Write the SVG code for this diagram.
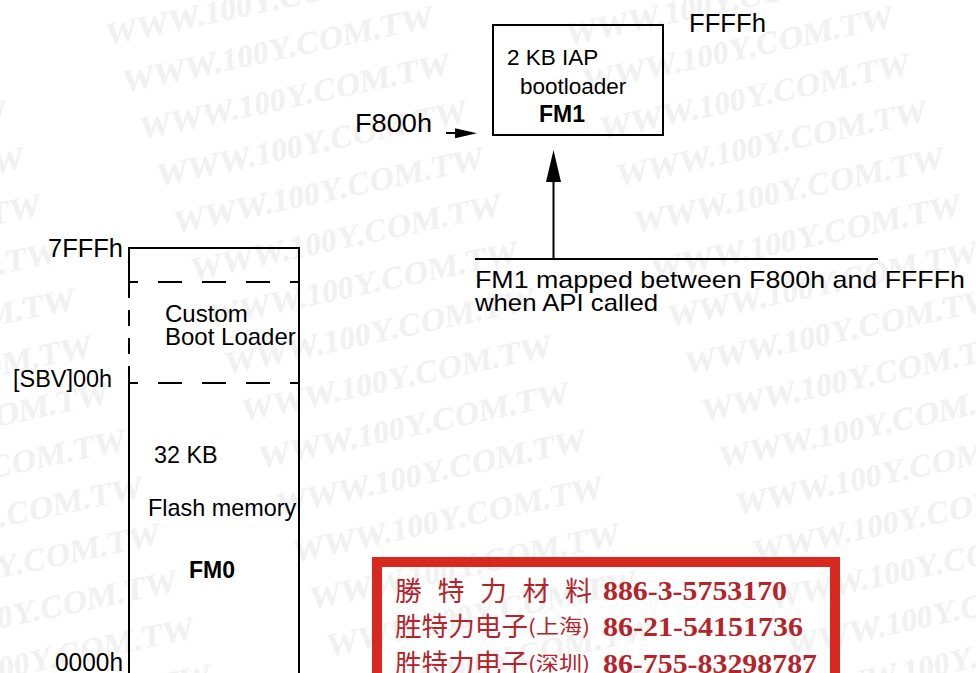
<svg xmlns="http://www.w3.org/2000/svg" xmlns:xlink="http://www.w3.org/1999/xlink" width="976" height="673" viewBox="0 0 976 673">
<style>
.t{font-family:"Liberation Sans",Arial,Helvetica,sans-serif;fill:#000}
.b{font-weight:bold}
.ln{stroke:#000;stroke-width:2;fill:none}
.dh{stroke-dasharray:24 20;stroke-dashoffset:14}
.dv{stroke-dasharray:16 12}
.wm{font-family:"Liberation Serif","Times New Roman",serif;font-weight:bold;font-size:32px;fill:#f1f1f1}
.cn{font-family:"Noto Sans CJK SC","Noto Sans CJK TC",sans-serif;fill:#b3252b}
.num{font-family:"Liberation Serif","Times New Roman",serif;font-weight:bold;fill:#b3252b;font-size:28px}
</style>
<defs>
<text id="wm" class="wm" text-anchor="end" transform="rotate(-12) skewX(-10)">WWW.100Y.COM.TW</text>
</defs>
<rect width="976" height="673" fill="#fff"/>
<g id="watermark">
<use xlink:href="#wm" transform="translate(416,-20)"/>
<use xlink:href="#wm" transform="translate(433,27)"/>
<use xlink:href="#wm" transform="translate(450,74)"/>
<use xlink:href="#wm" transform="translate(467,121)"/>
<use xlink:href="#wm" transform="translate(484,168)"/>
<use xlink:href="#wm" transform="translate(501,215)"/>
<use xlink:href="#wm" transform="translate(518,262)"/>
<use xlink:href="#wm" transform="translate(535,309)"/>
<use xlink:href="#wm" transform="translate(552,356)"/>
<use xlink:href="#wm" transform="translate(569,403)"/>
<use xlink:href="#wm" transform="translate(586,450)"/>
<use xlink:href="#wm" transform="translate(603,497)"/>
<use xlink:href="#wm" transform="translate(620,544)"/>
<use xlink:href="#wm" transform="translate(637,591)"/>
<use xlink:href="#wm" transform="translate(654,638)"/>
<use xlink:href="#wm" transform="translate(671,685)"/>
<use xlink:href="#wm" transform="translate(876,-20)"/>
<use xlink:href="#wm" transform="translate(893,27)"/>
<use xlink:href="#wm" transform="translate(910,74)"/>
<use xlink:href="#wm" transform="translate(927,121)"/>
<use xlink:href="#wm" transform="translate(944,168)"/>
<use xlink:href="#wm" transform="translate(961,215)"/>
<use xlink:href="#wm" transform="translate(978,262)"/>
<use xlink:href="#wm" transform="translate(995,309)"/>
<use xlink:href="#wm" transform="translate(1012,356)"/>
<use xlink:href="#wm" transform="translate(1029,403)"/>
<use xlink:href="#wm" transform="translate(1046,450)"/>
<use xlink:href="#wm" transform="translate(1063,497)"/>
<use xlink:href="#wm" transform="translate(1080,544)"/>
<use xlink:href="#wm" transform="translate(1097,591)"/>
<use xlink:href="#wm" transform="translate(1114,638)"/>
<use xlink:href="#wm" transform="translate(1131,685)"/>
<use xlink:href="#wm" transform="translate(7,121)"/>
<use xlink:href="#wm" transform="translate(24,168)"/>
<use xlink:href="#wm" transform="translate(41,215)"/>
<use xlink:href="#wm" transform="translate(58,262)"/>
<use xlink:href="#wm" transform="translate(75,309)"/>
<use xlink:href="#wm" transform="translate(92,356)"/>
<use xlink:href="#wm" transform="translate(109,403)"/>
<use xlink:href="#wm" transform="translate(126,450)"/>
<use xlink:href="#wm" transform="translate(143,497)"/>
<use xlink:href="#wm" transform="translate(160,544)"/>
<use xlink:href="#wm" transform="translate(177,591)"/>
<use xlink:href="#wm" transform="translate(194,638)"/>
<use xlink:href="#wm" transform="translate(211,685)"/>
</g>

<g id="connectors">
<line class="ln" x1="446" y1="133" x2="457" y2="133"/>
<polygon points="455,128.3 477,133.3 455,138.3" fill="#000"/>
<line class="ln" x1="553.5" y1="259" x2="553.5" y2="180"/>
<polygon points="546,182 553.5,150 561,182" fill="#000"/>
<line class="ln" x1="475" y1="259" x2="878" y2="259"/>
</g>

<g id="fm1">
<rect class="ln" x="493" y="25" width="170" height="110"/>
<text class="t" x="507" y="65" font-size="22.5">2 KB IAP</text>
<text class="t" x="520" y="94" font-size="22.5">bootloader</text>
<text class="t b" x="539" y="122" font-size="23">FM1</text>
</g>
<g id="ffff-label"><text class="t" x="689" y="32" font-size="25" textLength="77" lengthAdjust="spacingAndGlyphs">FFFFh</text></g>
<g id="f800-label"><text class="t" x="355" y="132" font-size="25" textLength="77" lengthAdjust="spacingAndGlyphs">F800h</text></g>

<g id="caption">
<text class="t" x="475" y="288" font-size="24" textLength="490" lengthAdjust="spacingAndGlyphs">FM1 mapped between F800h and FFFFh</text>
<text class="t" x="475" y="311" font-size="24" textLength="183" lengthAdjust="spacingAndGlyphs">when API called</text>
</g>

<g id="fm0">
<line class="ln" x1="128" y1="248" x2="300" y2="248"/>
<line class="ln" x1="299" y1="248" x2="299" y2="680"/>
<line class="ln" x1="129" y1="247" x2="129" y2="282"/>
<line class="ln dv" x1="129" y1="282" x2="129" y2="383"/>
<line class="ln" x1="129" y1="383" x2="129" y2="680"/>
<line class="ln dh" x1="128" y1="282" x2="299" y2="282"/>
<line class="ln dh" x1="128" y1="383" x2="299" y2="383"/>
<text class="t" x="48" y="257" font-size="25" textLength="75" lengthAdjust="spacingAndGlyphs">7FFFh</text>
<text class="t" x="165" y="322" font-size="24">Custom</text>
<text class="t" x="165" y="345" font-size="24">Boot Loader</text>
<text class="t" x="13" y="387" font-size="23.5" textLength="99" lengthAdjust="spacingAndGlyphs">[SBV]00h</text>
<text class="t" x="154" y="463" font-size="23.4">32 KB</text>
<text class="t" x="148" y="516" font-size="23.4">Flash memory</text>
<text class="t b" x="189" y="578" font-size="23">FM0</text>
<text class="t" x="55" y="671" font-size="25" textLength="68" lengthAdjust="spacingAndGlyphs">0000h</text>
</g>

<g id="stamp">
<rect x="377" y="562" width="458" height="150" fill="none" stroke="#d9291e" stroke-width="10"/>
<text class="cn" x="395 437.5 480 522.5 565" y="601" font-size="27">勝特力材料</text>
<text class="num" x="603" y="600" textLength="184" lengthAdjust="spacingAndGlyphs">886-3-5753170</text>
<text class="cn" x="395" y="636" font-size="26.5" textLength="133" lengthAdjust="spacingAndGlyphs">胜特力电子</text>
<text class="cn" x="528" y="634" font-size="20" textLength="62" lengthAdjust="spacingAndGlyphs">(上海)</text>
<text class="num" x="603" y="636" textLength="200" lengthAdjust="spacingAndGlyphs">86-21-54151736</text>
<text class="cn" x="395" y="673" font-size="26.5" textLength="133" lengthAdjust="spacingAndGlyphs">胜特力电子</text>
<text class="cn" x="528" y="671" font-size="20" textLength="62" lengthAdjust="spacingAndGlyphs">(深圳)</text>
<text class="num" x="603" y="673" textLength="214" lengthAdjust="spacingAndGlyphs">86-755-83298787</text>
</g>
</svg>
